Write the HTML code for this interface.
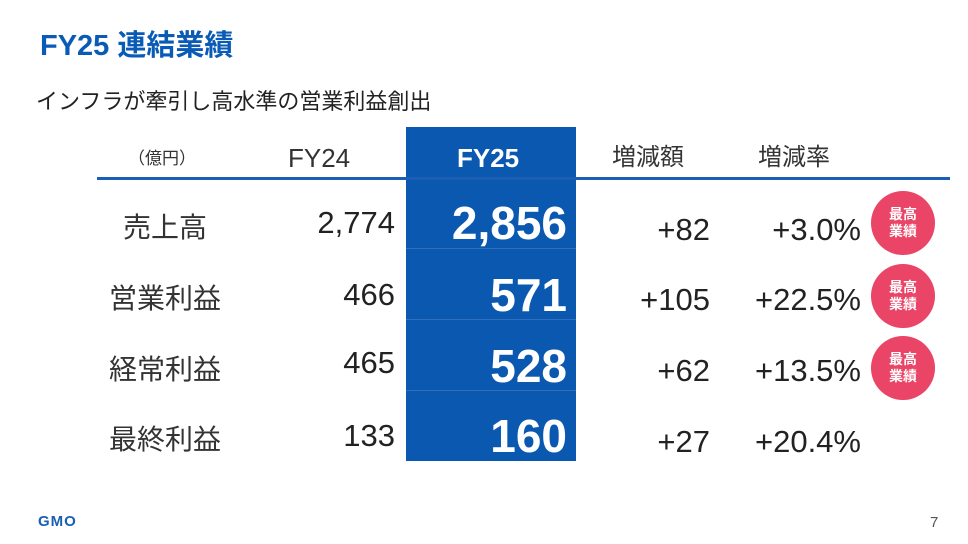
<!DOCTYPE html>
<html><head><meta charset="utf-8"><style>
body{margin:0;width:968px;height:544px;background:#fff;position:relative;overflow:hidden;font-family:"Liberation Sans","Noto Sans CJK JP",sans-serif;color:#222}
.a{position:absolute;white-space:nowrap;line-height:1}
.r{text-align:right}
.c{text-align:center}
.lab{font-size:28px;color:#333;width:140px;left:95px}
.n{font-size:31px;color:#222}
.b{font-size:46px;font-weight:bold;color:#fff;width:155px;left:412px;text-align:right}
.badge{position:absolute;left:871px;width:64px;height:64px;border-radius:50%;background:#ea4466;color:#fff;font-size:14px;font-weight:bold;line-height:17px;text-align:center;display:flex;align-items:center;justify-content:center}
.sep{position:absolute;left:406px;width:170px;height:1px;background:#2f6fbe}
</style></head><body>
<div class="a" style="left:40px;top:32px;font-size:29px;font-weight:bold;color:#0a5bb5">FY25 連結業績</div>
<div class="a" style="left:36px;top:91px;font-size:22px;color:#222">インフラが牽引し高水準の営業利益創出</div>
<div style="position:absolute;left:406px;top:127px;width:170px;height:334px;background:#0a58b0"></div>
<div class="sep" style="top:248px"></div><div class="sep" style="top:319px"></div><div class="sep" style="top:390px"></div>
<div style="position:absolute;left:97px;top:177px;width:853px;height:3px;background:#1a5fb4"></div>
<div class="a" style="left:128px;top:150px;font-size:17px;color:#333">（億円）</div>
<div class="a" style="left:288px;top:145px;font-size:26px;color:#333">FY24</div>
<div class="a" style="left:457px;top:145px;font-size:26px;font-weight:bold;color:#fff">FY25</div>
<div class="a" style="left:612px;top:146px;font-size:24px;color:#333">増減額</div>
<div class="a" style="left:758px;top:146px;font-size:24px;color:#333">増減率</div>

<div class="a lab c" style="top:214px">売上高</div>
<div class="a lab c" style="top:285px">営業利益</div>
<div class="a lab c" style="top:356px">経常利益</div>
<div class="a lab c" style="top:426px">最終利益</div>

<div class="a n r" style="left:265px;width:130px;top:207px">2,774</div>
<div class="a n r" style="left:265px;width:130px;top:279px">466</div>
<div class="a n r" style="left:265px;width:130px;top:347px">465</div>
<div class="a n r" style="left:265px;width:130px;top:420px">133</div>

<div class="a b" style="top:200px">2,856</div>
<div class="a b" style="top:272px">571</div>
<div class="a b" style="top:343px">528</div>
<div class="a b" style="top:413px">160</div>

<div class="a n r" style="left:570px;width:140px;top:214px">+82</div>
<div class="a n r" style="left:570px;width:140px;top:284px">+105</div>
<div class="a n r" style="left:570px;width:140px;top:355px">+62</div>
<div class="a n r" style="left:570px;width:140px;top:426px">+27</div>

<div class="a n r" style="left:711px;width:150px;top:214px">+3.0%</div>
<div class="a n r" style="left:711px;width:150px;top:284px">+22.5%</div>
<div class="a n r" style="left:711px;width:150px;top:355px">+13.5%</div>
<div class="a n r" style="left:711px;width:150px;top:426px">+20.4%</div>

<div class="badge" style="top:191px">最高<br>業績</div>
<div class="badge" style="top:264px">最高<br>業績</div>
<div class="badge" style="top:336px">最高<br>業績</div>

<div class="a" style="left:38px;top:514px;font-size:15px;font-weight:bold;color:#1a5fb4;letter-spacing:1px">GMO</div>
<div class="a" style="left:930px;top:515px;font-size:15px;color:#555">7</div>
</body></html>
